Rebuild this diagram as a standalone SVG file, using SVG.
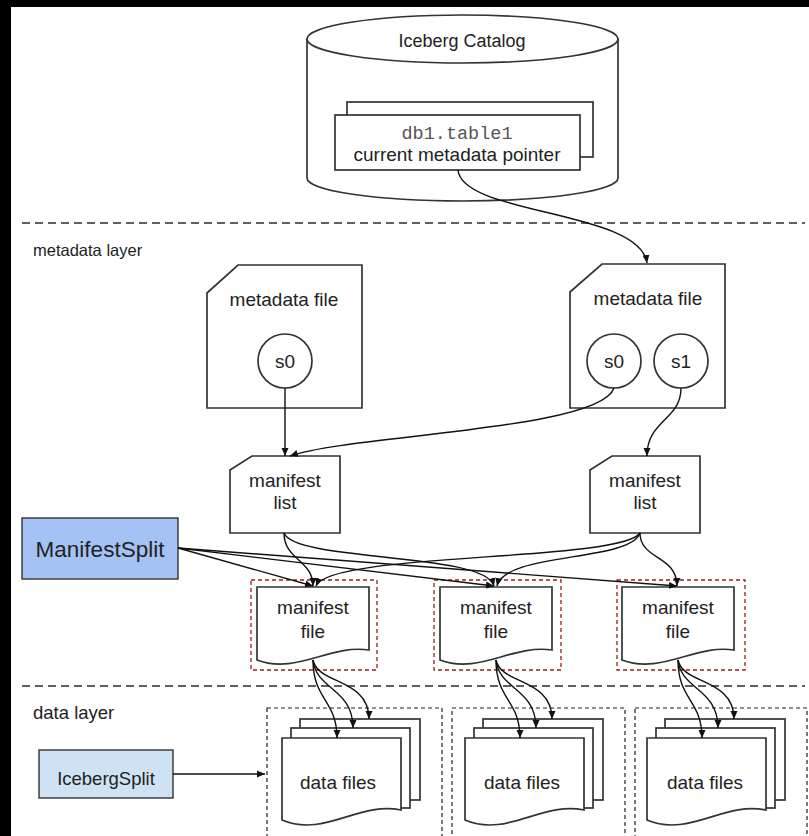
<svg xmlns="http://www.w3.org/2000/svg" width="809" height="836" viewBox="0 0 809 836">
<style>
.sh{fill:#fff;stroke:#333;stroke-width:1.7}
.t{font-family:"Liberation Sans",Arial,sans-serif;fill:#222;text-anchor:middle}
.lab{font-family:"Liberation Sans",Arial,sans-serif;fill:#222}
.c{fill:none;stroke:#111;stroke-width:1.4}
.sep{stroke:#5f5f5f;stroke-width:2;stroke-dasharray:8 5}
.red{fill:none;stroke:#9c1c1c;stroke-width:1.3;stroke-dasharray:4 3}
.box{fill:none;stroke:#222;stroke-width:1.2;stroke-dasharray:4 3}
</style>
<defs>
<marker id="a" markerWidth="9" markerHeight="8" refX="8" refY="4" orient="auto" markerUnits="userSpaceOnUse"><path d="M0,0.5 L8,4 L0,7.5 z" fill="#111"/></marker>
<path id="mf" d="M0,0 H112 V63 C73,57 39,88 0,73 Z"/>
<path id="df" d="M0,0 H119 V72 C77,63 42,100 0,82 Z"/>
</defs>
<rect x="0" y="0" width="809" height="836" fill="#000"/>
<rect x="11" y="7" width="798" height="829" fill="#fff"/>

<g id="separators">
<line class="sep" x1="22" y1="223" x2="805" y2="223"/>
<line class="sep" x1="22" y1="686" x2="805" y2="686"/>
<text class="lab" x="33" y="256" font-size="16.5">metadata layer</text>
<text class="lab" x="33" y="719" font-size="18.5">data layer</text>
</g>

<g id="catalog">
<path class="sh" d="M307,39 V178 A155.5,23 0 0 0 618,178 V39 Z"/>
<ellipse class="sh" cx="462.5" cy="39" rx="155.5" ry="24"/>
<text class="t" x="462" y="47" font-size="18">Iceberg Catalog</text>
<rect class="sh" x="347" y="102" width="246" height="55"/>
<rect class="sh" x="335" y="115" width="245" height="55"/>
<text class="t" x="457" y="139" font-size="18.5" style="font-family:'Liberation Mono',monospace;fill:#555">db1.table1</text>
<text class="t" x="457" y="161" font-size="19">current metadata pointer</text>
</g>

<g id="metadata-file-1">
<path class="sh" d="M207,293 L238,265 H362 V408 H207 Z"/>
<text class="t" x="284" y="306" font-size="19">metadata file</text>
<circle class="sh" cx="285" cy="361" r="27"/>
<text class="t" x="285" y="368" font-size="19">s0</text>
</g>

<g id="metadata-file-2">
<path class="sh" d="M570,292 L602,264 H725 V408 H570 Z"/>
<text class="t" x="648" y="305" font-size="19">metadata file</text>
<circle class="sh" cx="614" cy="361" r="27"/>
<text class="t" x="614" y="368" font-size="19">s0</text>
<circle class="sh" cx="681" cy="361" r="27"/>
<text class="t" x="681" y="368" font-size="19">s1</text>
</g>

<g id="manifest-list-1">
<path class="sh" d="M230,470 L252,456 H340 V533 H230 Z"/>
<text class="t" x="285" y="487" font-size="19">manifest</text>
<text class="t" x="285" y="509" font-size="19">list</text>
</g>

<g id="manifest-list-2">
<path class="sh" d="M590,470 L612,456 H700 V533 H590 Z"/>
<text class="t" x="645" y="487" font-size="19">manifest</text>
<text class="t" x="645" y="509" font-size="19">list</text>
</g>

<g id="manifest-split">
<rect x="22" y="518" width="156" height="61" fill="#a4c2f4" stroke="#333" stroke-width="1.4"/>
<text class="t" x="100" y="557" font-size="22.5">ManifestSplit</text>
</g>

<g id="manifest-file-1">
<rect class="red" x="251" y="580" width="126" height="90"/>
<use href="#mf" x="257" y="587" class="sh"/>
<text class="t" x="313" y="614" font-size="19">manifest</text>
<text class="t" x="313" y="638" font-size="19">file</text>
</g>
<g id="manifest-file-2">
<rect class="red" x="434" y="580" width="127" height="90"/>
<use href="#mf" x="440" y="587" class="sh"/>
<text class="t" x="496" y="614" font-size="19">manifest</text>
<text class="t" x="496" y="638" font-size="19">file</text>
</g>
<g id="manifest-file-3">
<rect class="red" x="617" y="580" width="128" height="90"/>
<use href="#mf" x="622" y="587" class="sh"/>
<text class="t" x="678" y="614" font-size="19">manifest</text>
<text class="t" x="678" y="638" font-size="19">file</text>
</g>

<g id="iceberg-split">
<rect x="39" y="750" width="134" height="48" fill="#cfe2f3" stroke="#333" stroke-width="1.4"/>
<text class="t" x="106" y="785" font-size="18.5">IcebergSplit</text>
</g>

<g id="data-files-1">
<rect class="box" x="267" y="708" width="175" height="135"/>
<rect class="sh" x="300" y="719" width="120" height="81"/>
<rect class="sh" x="291" y="728" width="119" height="80"/>
<use href="#df" x="282" y="738" class="sh"/>
<text class="t" x="338" y="789" font-size="19">data files</text>
</g>
<g id="data-files-2">
<rect class="box" x="452" y="708" width="173" height="135"/>
<rect class="sh" x="483" y="719" width="120" height="81"/>
<rect class="sh" x="474" y="728" width="119" height="80"/>
<use href="#df" x="465" y="738" class="sh"/>
<text class="t" x="522" y="789" font-size="19">data files</text>
</g>
<g id="data-files-3">
<rect class="box" x="635" y="708" width="172" height="135"/>
<rect class="sh" x="665" y="719" width="120" height="81"/>
<rect class="sh" x="656" y="728" width="119" height="80"/>
<use href="#df" x="647" y="738" class="sh"/>
<text class="t" x="705" y="789" font-size="19">data files</text>
</g>

<g id="connectors" marker-end="url(#a)">
<path class="c" d="M458,170 C462,215 640,210 647,263"/>
<path class="c" d="M285,388 V456"/>
<path class="c" d="M614,388 C600,430 350,435 290,456"/>
<path class="c" d="M681,388 C681,420 647,420 647,456"/>
<path class="c" d="M178,548 L313,586"/>
<path class="c" d="M178,548 L494,586"/>
<path class="c" d="M178,548 L677,586"/>
<path class="c" d="M284,533 C284,560 313,560 313,586"/>
<path class="c" d="M284,533 C295,562 485,552 494,586"/>
<path class="c" d="M640,533 C620,562 330,552 316,586"/>
<path class="c" d="M640,533 C630,562 505,552 497,586"/>
<path class="c" d="M640,533 C640,560 677,555 677,586"/>
<path class="c" d="M313,660 C313,700 337,700 337,738"/>
<path class="c" d="M313,660 C316,690 353,688 353,728"/>
<path class="c" d="M313,660 C318,685 369,678 369,719"/>
<path class="c" d="M496,660 C496,700 520,700 520,738"/>
<path class="c" d="M496,660 C499,690 536,688 536,728"/>
<path class="c" d="M496,660 C501,685 552,678 552,719"/>
<path class="c" d="M678,660 C678,700 702,700 702,738"/>
<path class="c" d="M678,660 C681,690 718,688 718,728"/>
<path class="c" d="M678,660 C683,685 734,678 734,719"/>
<path class="c" d="M173,774 H265"/>
</g>
</svg>
